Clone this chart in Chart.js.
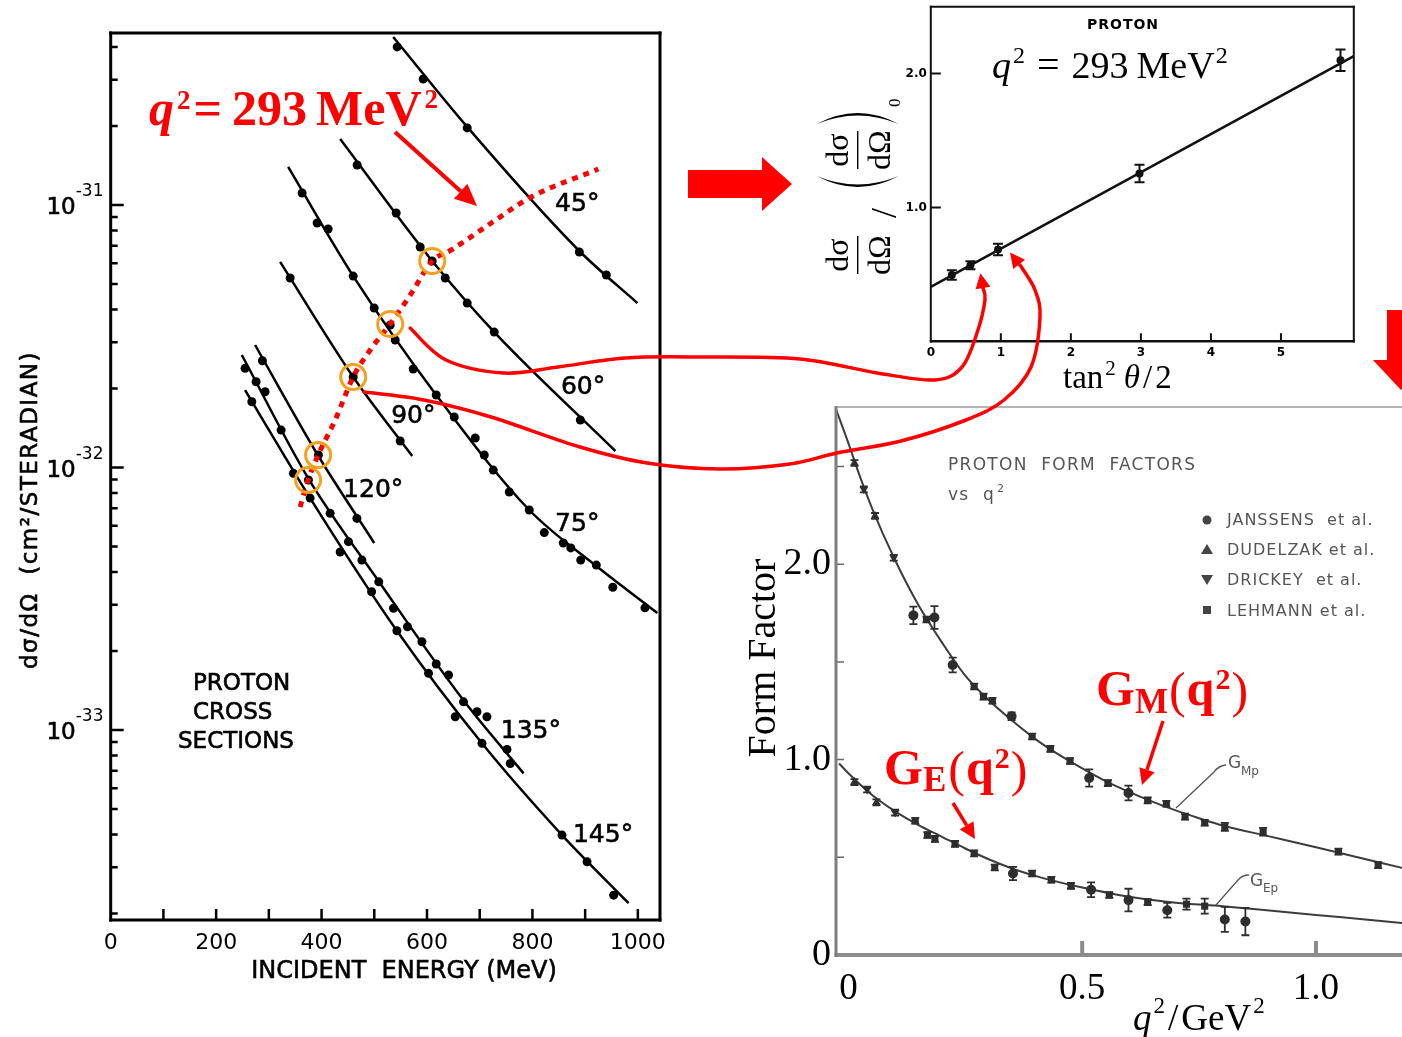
<!DOCTYPE html>
<html>
<head>
<meta charset="utf-8">
<title>Proton cross sections and form factors</title>
<script src="https://cdn.jsdelivr.net/npm/chart.js@4.4.1/dist/chart.umd.min.js"></script>
<style>
  html, body { margin: 0; padding: 0; background: #fff; }
  body { width: 1402px; height: 1037px; overflow: hidden; position: relative; }
  .panel { position: absolute; }
  canvas { display: block; }
  #overlay { position: absolute; left: 0; top: 0; pointer-events: none; }
</style>
</head>
<body>
<div class="panel" style="left:0;top:0"><canvas id="cross" width="680" height="1000"></canvas></div>
<div class="panel" style="left:800px;top:0"><canvas id="rosen" width="602" height="400"></canvas></div>
<div class="panel" style="left:730px;top:400px"><canvas id="ff" width="740" height="637"></canvas></div>
<canvas id="overlay" width="1402" height="1037"></canvas>
<script>
const RED = '#ff0000';
const ORANGE = '#f4a11e';
const HAND = "'DejaVu Sans', sans-serif";
const SERIF = "'Liberation Serif', 'DejaVu Serif', serif";
const GREY = '#3c3c3c';

// ---- left panel: d(sigma)/d(Omega) in units of 1e-32 cm^2/sr vs incident energy (MeV)
const energyTicks = [0, 200, 400, 600, 800, 1000];
const energyMinor = [100, 200, 300, 400, 500, 600, 700, 800, 900, 1000];
const sigmaTicks = [0.1, 1, 10];
const sigmaExponents = ['-33', '-32', '-31'];

const pts45 = [[543.5, 40.0], [592.8, 30.2], [676.3, 19.66], [889.0, 6.62], [940.2, 5.41]];
const curve45 = [[535.9, 43.65], [676.3, 19.83], [889.0, 6.68], [999.1, 4.23]];
const pts60 = [[467.5, 14.2], [541.6, 9.32], [587.1, 6.92], [609.9, 6.12], [634.6, 5.27], [676.3, 4.23], [727.6, 3.28], [890.9, 1.517]];
const curve60 = [[435.3, 17.84], [609.9, 6.12], [727.6, 3.28], [957.3, 1.156]];
const pts75 = [[363.1, 11.11], [391.6, 8.54], [412.5, 8.10], [460.0, 5.36], [499.8, 4.05], [530.2, 3.49], [539.7, 3.06],
  [573.8, 2.372], [617.5, 1.889], [651.7, 1.557], [691.5, 1.295], [708.6, 1.116], [725.7, 0.978], [756.1, 0.807],
  [794.0, 0.689], [822.5, 0.565], [858.6, 0.516], [872.8, 0.494], [891.6, 0.444], [921.2, 0.425], [952.5, 0.350], [1013.5, 0.292]];
const curve75 = [[336.6, 13.96], [460.0, 5.36], [617.5, 1.889], [794.0, 0.689], [921.2, 0.4215], [1037, 0.279]];
const pts90 = [[340.4, 5.27], [460.0, 2.212], [549.2, 1.262]];
const curve90 = [[321.4, 6.07], [460.0, 2.212], [572.0, 1.106]];
const pts120 = [[287.8, 2.552], [394.1, 1.116], [467.0, 0.640]];
const curve120 = [[273.9, 2.929], [392.8, 1.116], [499.8, 0.516]];
const pts135 = [[254.9, 2.387], [275.8, 2.122], [292.9, 1.944], [323.3, 1.389], [375.1, 0.896], [416.3, 0.669], [451.0, 0.522],
  [476.5, 0.444], [508.5, 0.367], [536.4, 0.291], [563.0, 0.2474], [590.4, 0.217], [617.5, 0.1784], [640.9, 0.162],
  [669.3, 0.1281], [694.8, 0.1174], [713.7, 0.1124], [751.7, 0.0844], [758.0, 0.0746]];
const curve135 = [[248.7, 2.683], [374.5, 0.912], [509.3, 0.3664], [668.8, 0.1301], [783.2, 0.0684]];
const pts145 = [[267.7, 1.781], [346.6, 0.950], [378.3, 0.765], [435.3, 0.4765], [494.9, 0.3364], [542.9, 0.2389],
  [602.9, 0.1644], [653.6, 0.1124], [704.3, 0.0890], [856.1, 0.0398], [903.6, 0.0315], [954.1, 0.0235]];
const curve145 = [[254.9, 1.973], [378.3, 0.765], [542.9, 0.2389], [704.3, 0.0890], [856.1, 0.0398], [982.5, 0.0219]];

// points at q^2 = 293 MeV^2 (circled) and the dotted line through them
const q293Points = [[609.9, 6.12], [530.2, 3.52], [460.0, 2.212], [393.5, 1.116], [374.5, 0.896]];
const q293Line = [[359.3, 0.707], [374.5, 0.896], [393.5, 1.116], [425.8, 1.517], [460.0, 2.212], [492.2, 2.803],
  [530.2, 3.52], [568.2, 4.54], [609.9, 6.12], [646.0, 6.74], [721.9, 8.54], [797.8, 10.73], [925.0, 13.71]];

const angleLabels = [['45°', 885, 10], ['60°', 896, 2.018], ['75°', 885, 0.609], ['90°', 574, 1.562],
  ['120°', 498, 0.814], ['135°', 797, 0.0985], ['145°', 934, 0.0398]];

// ---- top right: Rosenbluth plot at q^2 = 293 MeV^2
const tanTicks = [0, 1, 2, 3, 4, 5];
const ratioTicks = [1, 2];
const tanX = [0.30, 0.566, 0.96, 2.98, 5.85];
const ratioY = [0.495, 0.569, 0.686, 1.254, 2.10];
const ratioErr = [0.035, 0.03, 0.043, 0.066, 0.08];
const fitX = [0, 6.04];
const fitY = [0.407, 2.13];

// ---- bottom right: proton form factors vs q^2 (GeV^2)
const q2Ticks = [0, 0.5, 1.0];
const q2Labels = ['0', '0.5', '1.0'];
const ffTicks = [0, 1, 2];
const ffLabels = ['0', '1.0', '2.0'];
const gmX = [0.013, 0.033, 0.057, 0.097, 0.139, 0.167, 0.184, 0.223, 0.269, 0.289, 0.308, 0.349, 0.393, 0.432, 0.474,
  0.515, 0.555, 0.599, 0.640, 0.680, 0.720, 0.762, 0.805, 0.887, 1.048, 1.133];
const gmY = [2.518, 2.383, 2.247, 2.033, 1.738, 1.717, 1.727, 1.484, 1.374, 1.322, 1.301, 1.222, 1.118, 1.055, 0.993,
  0.906, 0.880, 0.829, 0.791, 0.774, 0.708, 0.677, 0.656, 0.631, 0.529, 0.460];
const gmErr = [0.015, 0.015, 0.015, 0.015, 0.045, 0.015, 0.058, 0.038, 0.015, 0.015, 0.015, 0.02, 0.015, 0.015, 0.015,
  0.044, 0.015, 0.038, 0.015, 0.015, 0.015, 0.015, 0.02, 0.02, 0.015, 0.015];
const gmMark = ['tri', 'inv', 'tri', 'inv', 'dot', 'sq', 'dot', 'dot', 'sq', 'sq', 'sq', 'dot', 'sq', 'sq', 'sq',
  'dot', 'sq', 'dot', 'sq', 'sq', 'sq', 'sq', 'sq', 'sq', 'sq', 'sq'];
const geX = [0.013, 0.040, 0.060, 0.100, 0.143, 0.169, 0.185, 0.228, 0.269, 0.313, 0.352, 0.393, 0.434, 0.476, 0.519,
  0.558, 0.599, 0.640, 0.682, 0.723, 0.762, 0.805, 0.849];
const geY = [0.885, 0.847, 0.781, 0.729, 0.687, 0.614, 0.594, 0.569, 0.520, 0.448, 0.417, 0.417, 0.385, 0.354, 0.334,
  0.307, 0.281, 0.271, 0.229, 0.260, 0.250, 0.182, 0.171];
const geErr = [0.015, 0.015, 0.015, 0.015, 0.015, 0.015, 0.015, 0.015, 0.015, 0.015, 0.034, 0.015, 0.015, 0.015, 0.038,
  0.015, 0.058, 0.015, 0.038, 0.028, 0.038, 0.064, 0.07];
const geMark = ['tri', 'inv', 'tri', 'inv', 'sq', 'sq', 'sq', 'sq', 'sq', 'sq', 'dot', 'sq', 'sq', 'sq', 'dot',
  'sq', 'dot', 'sq', 'dot', 'sq', 'sq', 'dot', 'dot'];
const gmCurve = [[-0.026, 2.79], [0.0, 2.62], [0.02, 2.48], [0.05, 2.29], [0.1, 2.02], [0.15, 1.79], [0.2, 1.60],
  [0.25, 1.43], [0.3, 1.305], [0.35, 1.20], [0.4, 1.105], [0.45, 1.025], [0.5, 0.955], [0.55, 0.89], [0.6, 0.835],
  [0.65, 0.785], [0.7, 0.74], [0.75, 0.70], [0.8, 0.663], [0.9, 0.607], [1.0, 0.551], [1.1, 0.494], [1.2, 0.437], [1.28, 0.395]];
const geCurve = [[-0.02, 0.98], [0.0, 0.93], [0.05, 0.82], [0.1, 0.735], [0.15, 0.665], [0.2, 0.605], [0.25, 0.545],
  [0.3, 0.49], [0.35, 0.443], [0.4, 0.405], [0.45, 0.373], [0.5, 0.345], [0.6, 0.298], [0.7, 0.268], [0.8, 0.25],
  [0.9, 0.228], [1.0, 0.205], [1.1, 0.183], [1.2, 0.16], [1.28, 0.142]];

const xy = arr => arr.map(([x, y]) => ({ x, y }));
const zip = (xs, ys) => xs.map((x, i) => ({ x, y: ys[i] }));
const markStyle = m => (m === 'dot' ? 'circle' : m === 'sq' ? 'rect' : 'triangle');

// minor ticks of the log axis: 1..9 in every decade
const logMinor = [];
[0.01, 0.1, 1, 10].forEach(d => { for (let m = 1; m <= 9; m++) logMinor.push(m * d); });

// fixed axis box sizes, no label overhang padding
const fixW = w => s => { s.width = w; s.paddingTop = 0; s.paddingBottom = 0; };
const fixH = h => s => { s.height = h; s.paddingLeft = 0; s.paddingRight = 0; };

// frame and inward ticks drawn on the chart area border
function framePlugin(cfg) {
  return {
    id: 'frame',
    afterDatasetsDraw(chart) {
      const { ctx, chartArea: a, scales } = chart;
      const s = cfg.sides, col = cfg.sideColors || {};
      ctx.save();
      cfg.marks.forEach(m => {
        ctx.strokeStyle = m.color || cfg.color;
        ctx.lineWidth = m.width;
        ctx.beginPath();
        m.values.forEach(v => {
          if (m.axis === 'x') {
            const p = scales.x.getPixelForValue(v);
            ctx.moveTo(p, a.bottom); ctx.lineTo(p, a.bottom - m.len);
          } else {
            if (v < scales.y.min || v > scales.y.max) return;
            const p = scales.y.getPixelForValue(v);
            const len = (m.major && m.major(v)) ? m.majorLen : m.len;
            ctx.moveTo(a.left, p); ctx.lineTo(a.left + len, p);
          }
        });
        ctx.stroke();
      });
      const edge = (name, x1, y1, x2, y2) => {
        if (!s[name]) return;
        ctx.strokeStyle = col[name] || cfg.color;
        ctx.lineWidth = s[name];
        ctx.beginPath(); ctx.moveTo(x1, y1); ctx.lineTo(x2, y2); ctx.stroke();
      };
      const hl = (s.left || 0) / 2, hr = (s.right || 0) / 2, ht = (s.top || 0) / 2, hb = (s.bottom || 0) / 2;
      edge('top', a.left - hl, a.top, a.right + hr, a.top);
      edge('bottom', a.left - hl, a.bottom, a.right + hr, a.bottom);
      edge('left', a.left, a.top - ht, a.left, a.bottom + hb);
      edge('right', a.right, a.top - ht, a.right, a.bottom + hb);
      ctx.restore();
    }
  };
}

function errorBarPlugin(cap, width) {
  return {
    id: 'errorBars',
    afterDatasetsDraw(chart) {
      const { ctx } = chart;
      const yScale = chart.scales.y;
      chart.data.datasets.forEach((ds, i) => {
        if (!ds.errors) return;
        const meta = chart.getDatasetMeta(i);
        ctx.save();
        ctx.strokeStyle = ds.backgroundColor;
        ctx.lineWidth = width;
        ctx.beginPath();
        meta.data.forEach((el, j) => {
          const e = ds.errors[j], v = ds.data[j].y;
          const t = yScale.getPixelForValue(v + e), b = yScale.getPixelForValue(v - e);
          ctx.moveTo(el.x, t); ctx.lineTo(el.x, b);
          ctx.moveTo(el.x - cap, t); ctx.lineTo(el.x + cap, t);
          ctx.moveTo(el.x - cap, b); ctx.lineTo(el.x + cap, b);
        });
        ctx.stroke();
        ctx.restore();
      });
    }
  };
}

// angle labels and "10 with exponent" labels of the cross-section panel
const crossLabelPlugin = {
  id: 'crossLabels',
  afterDatasetsDraw(chart) {
    const { ctx, chartArea: a, scales: { x, y } } = chart;
    ctx.save();
    ctx.fillStyle = '#000';
    ctx.strokeStyle = '#000';
    ctx.lineWidth = 0.6;
    ctx.font = `25px ${HAND}`;
    ctx.textAlign = 'center';
    ctx.textBaseline = 'middle';
    angleLabels.forEach(([t, e, s]) => {
      const px = x.getPixelForValue(e), py = y.getPixelForValue(s);
      ctx.fillText(t, px, py); ctx.strokeText(t, px, py);
    });
    ctx.textBaseline = 'alphabetic';
    sigmaTicks.forEach((v, i) => {
      const p = y.getPixelForValue(v);
      ctx.font = `23px ${HAND}`; ctx.textAlign = 'right';
      ctx.fillText('10', a.left - 35, p + 9); ctx.strokeText('10', a.left - 35, p + 9);
      ctx.font = `17px ${HAND}`; ctx.textAlign = 'left';
      ctx.fillText(sigmaExponents[i], a.left - 35, p - 9);
    });
    ctx.restore();
  }
};

const common = {
  responsive: false,
  animation: false,
  events: [],
  plugins: { legend: { display: false }, tooltip: { enabled: false } }
};

function axis(extra) {
  return Object.assign({
    grid: { display: false, drawTicks: false },
    border: { display: false }
  }, extra);
}

// ---------------- left: cross sections ----------------
const curveSet = (data) => ({
  data: xy(data), showLine: true, borderColor: '#000', borderWidth: 2.5, pointRadius: 0,
  tension: 0.4, cubicInterpolationMode: 'monotone'
});
const pointSet = (data) => ({
  data: xy(data), pointRadius: 4.5, backgroundColor: '#000', borderWidth: 0
});

const cross = new Chart(document.getElementById('cross'), {
  type: 'scatter',
  data: {
    datasets: [
      { data: xy(q293Points), pointRadius: 12.5, borderWidth: 3, pointBorderWidth: 3, borderColor: ORANGE,
        backgroundColor: 'rgba(0,0,0,0)' },
      { data: xy(q293Line), showLine: true, borderColor: RED, borderWidth: 5, borderDash: [6, 6], pointRadius: 0,
        tension: 0.4, cubicInterpolationMode: 'monotone' },
      pointSet(pts45), curveSet(curve45),
      pointSet(pts60), curveSet(curve60),
      pointSet(pts75), curveSet(curve75),
      pointSet(pts90), curveSet(curve90),
      pointSet(pts120), curveSet(curve120),
      pointSet(pts135), curveSet(curve135),
      pointSet(pts145), curveSet(curve145)
    ]
  },
  options: Object.assign({}, common, {
    layout: { padding: { top: 33, right: 20, left: 0, bottom: 0 } },
    scales: {
      x: axis({
        type: 'linear', min: 0, max: 1042,
        afterBuildTicks: s => { s.ticks = energyTicks.map(v => ({ value: v })); },
        afterFit: fixH(80),
        ticks: { autoSkip: false, maxRotation: 0, padding: 10, color: '#000', font: { family: HAND, size: 22 },
          callback: v => String(v) }
      }),
      y: axis({
        type: 'logarithmic', min: 0.0189, max: 45.2,
        afterBuildTicks: s => { s.ticks = sigmaTicks.map(v => ({ value: v })); },
        afterFit: fixW(110.7),
        ticks: { display: false }
      })
    }
  }),
  plugins: [framePlugin({
    color: '#000',
    sides: { top: 3, right: 3, bottom: 3, left: 3 },
    marks: [
      { axis: 'x', values: energyMinor, len: 11, width: 2.5 },
      { axis: 'y', values: logMinor, len: 7, majorLen: 13, width: 2.5,
        major: v => Math.abs(Math.log10(v) - Math.round(Math.log10(v))) < 1e-6 }
    ]
  }), crossLabelPlugin]
});

// ---------------- top right: Rosenbluth ----------------
const rosen = new Chart(document.getElementById('rosen'), {
  type: 'scatter',
  data: {
    datasets: [
      { data: zip(tanX, ratioY), errors: ratioErr, pointRadius: 4, backgroundColor: '#111', borderWidth: 0 },
      { data: zip(fitX, fitY), showLine: true, borderColor: '#111', borderWidth: 2.5, pointRadius: 0 }
    ]
  },
  options: Object.assign({}, common, {
    layout: { padding: { top: 6.7, right: 48.2, left: 0, bottom: 0 } },
    scales: {
      x: axis({
        type: 'linear', min: 0, max: 6.04,
        afterBuildTicks: s => { s.ticks = tanTicks.map(v => ({ value: v })); },
        afterFit: fixH(58.7),
        ticks: { autoSkip: false, maxRotation: 0, padding: 4, color: '#000',
          font: { family: HAND, size: 12, weight: 'bold' }, callback: v => String(v) }
      }),
      y: axis({
        type: 'linear', min: 0, max: 2.5,
        afterBuildTicks: s => { s.ticks = ratioTicks.map(v => ({ value: v })); },
        afterFit: fixW(130.8),
        ticks: { autoSkip: false, padding: 4, color: '#000',
          font: { family: HAND, size: 12, weight: 'bold' }, callback: v => v.toFixed(1) }
      })
    }
  }),
  plugins: [framePlugin({
    color: '#111',
    sides: { top: 2, right: 2, bottom: 2.5, left: 2 },
    marks: [
      { axis: 'x', values: [1, 2, 3, 4, 5], len: 8, width: 2 },
      { axis: 'y', values: ratioTicks, len: 10, width: 2 }
    ]
  }), errorBarPlugin(5, 2)]
});

// ---------------- bottom right: form factors ----------------
const ffSet = (xs, ys, errs, marks) => ({
  data: zip(xs, ys), errors: errs, pointRadius: 5, backgroundColor: '#2e2e2e', borderWidth: 0,
  pointStyle: marks.map(markStyle), rotation: marks.map(m => (m === 'inv' ? 180 : 0))
});
const ff = new Chart(document.getElementById('ff'), {
  type: 'scatter',
  data: {
    datasets: [
      ffSet(gmX, gmY, gmErr, gmMark),
      ffSet(geX, geY, geErr, geMark),
      { data: xy(gmCurve), showLine: true, borderColor: GREY, borderWidth: 2, pointRadius: 0, tension: 0.4,
        cubicInterpolationMode: 'monotone' },
      { data: xy(geCurve), showLine: true, borderColor: GREY, borderWidth: 2, pointRadius: 0, tension: 0.4,
        cubicInterpolationMode: 'monotone' }
    ]
  },
  options: Object.assign({}, common, {
    layout: { padding: { top: 7, right: 20, left: 0, bottom: 0 } },
    scales: {
      x: axis({
        type: 'linear', min: -0.0265, max: 1.2866,
        afterBuildTicks: s => { s.ticks = q2Ticks.map(v => ({ value: v })); },
        afterFit: fixH(82),
        ticks: { autoSkip: false, maxRotation: 0, padding: 12, color: '#000', font: { family: SERIF, size: 37 },
          callback: (v, i) => q2Labels[i] }
      }),
      y: axis({
        type: 'linear', min: 0, max: 2.8045,
        afterBuildTicks: s => { s.ticks = ffTicks.map(v => ({ value: v })); },
        afterFit: fixW(106),
        ticks: { autoSkip: false, padding: 5, color: '#000', font: { family: SERIF, size: 38 },
          callback: (v, i) => ffLabels[i] }
      })
    }
  }),
  plugins: [framePlugin({
    color: '#868686',
    sides: { top: 1.5, bottom: 4, left: 3 },
    sideColors: { top: '#9a9a9a', bottom: '#8c8c8c', left: '#7d7d7d' },
    marks: [
      { axis: 'x', values: [0.5, 1.0], len: 14, width: 4, color: '#8c8c8c' },
      { axis: 'y', values: [0.5, 1.0, 1.5, 2.0, 2.5], len: 8, width: 1.5, color: '#666' }
    ]
  }), errorBarPlugin(4, 1.8)]
});

// ---------------- overlay: captions and red annotations ----------------
function smooth(ctx, pts) {
  ctx.moveTo(pts[0][0], pts[0][1]);
  for (let i = 0; i < pts.length - 1; i++) {
    const p0 = pts[i - 1] || pts[i], p1 = pts[i], p2 = pts[i + 1], p3 = pts[i + 2] || p2;
    ctx.bezierCurveTo(p1[0] + (p2[0] - p0[0]) / 6, p1[1] + (p2[1] - p0[1]) / 6,
      p2[0] - (p3[0] - p1[0]) / 6, p2[1] - (p3[1] - p1[1]) / 6, p2[0], p2[1]);
  }
}

function head(ctx, from, tip, len, half) {
  const dx = tip[0] - from[0], dy = tip[1] - from[1], d = Math.hypot(dx, dy);
  const ux = dx / d, uy = dy / d;
  const b = [tip[0] - ux * len, tip[1] - uy * len];
  ctx.beginPath();
  ctx.moveTo(tip[0], tip[1]);
  ctx.lineTo(b[0] - uy * half, b[1] + ux * half);
  ctx.lineTo(b[0] + uy * half, b[1] - ux * half);
  ctx.closePath();
  ctx.fill();
  return b;
}

function arrow(ctx, from, tip, len, half, width) {
  const b = head(ctx, from, tip, len, half);
  ctx.lineWidth = width;
  ctx.beginPath(); ctx.moveTo(from[0], from[1]); ctx.lineTo(b[0], b[1]); ctx.stroke();
}

function connector(ctx, pts, tip) {
  const b = head(ctx, pts[pts.length - 1], tip, 15, 7.5);
  ctx.lineWidth = 3.5;
  ctx.lineCap = 'round';
  ctx.beginPath(); smooth(ctx, pts.concat([b])); ctx.stroke();
}

// text runs laid out one after another: [text, font, dy, extra gap]
function rich(ctx, parts, x, y) {
  ctx.textAlign = 'left';
  let cx = x;
  parts.forEach(([t, f, dy, gap]) => {
    ctx.font = f;
    ctx.fillText(t, cx, y + (dy || 0));
    cx += ctx.measureText(t).width + (gap || 0);
  });
}

function drawOverlay() {
  const ctx = document.getElementById('overlay').getContext('2d');
  const at = (chart, off, x, y) => [off[0] + chart.scales.x.getPixelForValue(x), off[1] + chart.scales.y.getPixelForValue(y)];
  const put = (t, font, x, y, align) => { ctx.font = font; ctx.textAlign = align || 'left'; ctx.fillText(t, x, y); };
  const CR = [0, 0], RO = [800, 0];
  ctx.textBaseline = 'alphabetic';

  // left panel captions
  ctx.fillStyle = '#000'; ctx.strokeStyle = '#000'; ctx.lineWidth = 0.6;
  ctx.save();
  ctx.translate(37, 510); ctx.rotate(-Math.PI / 2);
  ctx.letterSpacing = '1.5px';
  put('dσ/dΩ  (cm²/STERADIAN)', `23px ${HAND}`, 0, 0, 'center');
  ctx.strokeText('dσ/dΩ  (cm²/STERADIAN)', 0, 0);
  ctx.restore();
  const hand = (t, x, y, align, size) => {
    put(t, `${size}px ${HAND}`, x, y, align);
    ctx.strokeText(t, x, y);
  };
  hand('INCIDENT  ENERGY (MeV)', 404, 978, 'center', 24);
  hand('PROTON', 193, 690, 'left', 23);
  hand('CROSS', 193, 719, 'left', 23);
  hand('SECTIONS', 178, 748, 'left', 23);

  // red q^2 label and arrow on the left panel
  ctx.fillStyle = RED; ctx.strokeStyle = RED;
  rich(ctx, [['q', `italic bold 50px ${SERIF}`, 0, 3], ['2', `bold 27px ${SERIF}`, -16, 3],
    ['=', `bold 50px ${SERIF}`, 0, 10], ['293', `bold 50px ${SERIF}`, 0, 9],
    ['MeV', `bold 50px ${SERIF}`, 0, 3], ['2', `bold 27px ${SERIF}`, -17, 0]], 149, 125);
  arrow(ctx, [395, 132], [477, 206], 22, 10, 4);

  // block arrows
  ctx.beginPath();
  ctx.moveTo(688, 170); ctx.lineTo(762, 170); ctx.lineTo(762, 157); ctx.lineTo(792, 184);
  ctx.lineTo(762, 211); ctx.lineTo(762, 198); ctx.lineTo(688, 198); ctx.closePath(); ctx.fill();
  ctx.beginPath();
  ctx.moveTo(1387, 310); ctx.lineTo(1415, 310); ctx.lineTo(1415, 360); ctx.lineTo(1429, 360); ctx.lineTo(1401, 390);
  ctx.lineTo(1373, 360); ctx.lineTo(1387, 360); ctx.closePath(); ctx.fill();

  // Rosenbluth captions
  ctx.fillStyle = '#000'; ctx.strokeStyle = '#000';
  ctx.save(); ctx.letterSpacing = '1px';
  put('PROTON', `bold 14px ${HAND}`, 1123, 29, 'center');
  ctx.restore();
  rich(ctx, [['q', `italic 38px ${SERIF}`, 0, 2], ['2', `24px ${SERIF}`, -15, 12], ['=', `40px ${SERIF}`, 0, 12],
    ['293', `38px ${SERIF}`, 0, 8], ['MeV', `38px ${SERIF}`, 0, 1], ['2', `24px ${SERIF}`, -15, 0]], 992, 78);
  rich(ctx, [['tan', `33px ${SERIF}`, 0, 2], ['2', `21px ${SERIF}`, -13, 8], ['θ', `italic 33px ${SERIF}`, 0, 3],
    ['/', `33px ${SERIF}`, 0, 3], ['2', `33px ${SERIF}`, 0, 0]], 1063, 388);

  ctx.save();
  ctx.translate(857.7, 255); ctx.rotate(-Math.PI / 2);
  const frac = cx => {
    put('dσ', `32px ${SERIF}`, cx, -10, 'center');
    put('dΩ', `32px ${SERIF}`, cx, 32, 'center');
    ctx.lineWidth = 1.4;
    ctx.beginPath(); ctx.moveTo(cx - 19, 0); ctx.lineTo(cx + 19, 0); ctx.stroke();
  };
  const paren = (xb, dir) => {
    const w = 11, h = 41, e = xb + dir * w;
    ctx.beginPath();
    ctx.moveTo(e, -h);
    ctx.quadraticCurveTo(xb - dir * w, 0, e, h);
    ctx.quadraticCurveTo(xb - dir * w + dir * 5, 0, e, -h);
    ctx.fill();
  };
  frac(0);
  put('/', `36px ${SERIF}`, 42, 38, 'center');
  paren(68, 1);
  frac(105);
  paren(142, -1);
  put('0', `17px ${SERIF}`, 148, 42);
  ctx.restore();

  // form factor captions
  ctx.save();
  ctx.translate(775, 658); ctx.rotate(-Math.PI / 2);
  put('Form Factor', `40px ${SERIF}`, 0, 0, 'center');
  ctx.restore();
  rich(ctx, [['q', `italic 37px ${SERIF}`, 0, 2], ['2', `23px ${SERIF}`, -17, 3], ['/', `37px ${SERIF}`, 0, 3],
    ['GeV', `37px ${SERIF}`, 0, 2], ['2', `23px ${SERIF}`, -17, 0]], 1133, 1030);

  ctx.fillStyle = '#555'; ctx.strokeStyle = '#555';
  ctx.save(); ctx.letterSpacing = '1.3px';
  put('PROTON  FORM  FACTORS', `17px ${HAND}`, 948, 470);
  put('vs  q', `17px ${HAND}`, 948, 500);
  put('2', `11px ${HAND}`, 997, 492);
  ctx.restore();
  ctx.save(); ctx.letterSpacing = '1px';
  put('JANSSENS  et al.', `16px ${HAND}`, 1227, 525);
  put('DUDELZAK et al.', `16px ${HAND}`, 1227, 555);
  put('DRICKEY  et al.', `16px ${HAND}`, 1227, 585);
  put('LEHMANN et al.', `16px ${HAND}`, 1227, 616);
  ctx.restore();
  ctx.fillStyle = '#444';
  ctx.beginPath(); ctx.arc(1207, 520, 4.5, 0, Math.PI * 2); ctx.fill();
  ctx.beginPath(); ctx.moveTo(1207, 544); ctx.lineTo(1213, 554); ctx.lineTo(1201, 554); ctx.closePath(); ctx.fill();
  ctx.beginPath(); ctx.moveTo(1201, 575); ctx.lineTo(1213, 575); ctx.lineTo(1207, 585); ctx.closePath(); ctx.fill();
  ctx.fillRect(1203, 606, 8, 8);

  ctx.fillStyle = '#555'; ctx.strokeStyle = '#555'; ctx.lineWidth = 1.3;
  put('G', `17px ${HAND}`, 1228, 768);
  put('Mp', `12px ${HAND}`, 1241, 775);
  ctx.beginPath(); ctx.moveTo(1176, 808); ctx.lineTo(1214, 772); ctx.quadraticCurveTo(1218, 766, 1226, 765); ctx.stroke();
  put('G', `17px ${HAND}`, 1250, 886);
  put('Ep', `12px ${HAND}`, 1263, 892);
  ctx.beginPath(); ctx.moveTo(1216, 905); ctx.lineTo(1238, 880); ctx.quadraticCurveTo(1242, 875, 1249, 875); ctx.stroke();

  // red form-factor labels
  ctx.fillStyle = RED; ctx.strokeStyle = RED;
  rich(ctx, [['G', `bold 50px ${SERIF}`, 0, 0], ['M', `bold 35px ${SERIF}`, 8, 1], ['(', `50px ${SERIF}`, 2, 1],
    ['q', `bold 50px ${SERIF}`, 0, 1], ['2', `bold 30px ${SERIF}`, -16, 1], [')', `50px ${SERIF}`, 2, 0]], 1096, 705);
  arrow(ctx, [1163, 721], [1142, 785], 16, 8, 3.5);
  rich(ctx, [['G', `bold 50px ${SERIF}`, 0, 0], ['E', `bold 35px ${SERIF}`, 7, 2], ['(', `50px ${SERIF}`, 2, 1],
    ['q', `bold 50px ${SERIF}`, 0, 1], ['2', `bold 30px ${SERIF}`, -16, 1], [')', `50px ${SERIF}`, 2, 0]], 884, 784);
  arrow(ctx, [953, 803], [975, 839], 16, 8, 3.5);

  // connectors from the circled points to the Rosenbluth points
  const c75 = at(cross, CR, q293Points[1][0], q293Points[1][1]);
  const c90 = at(cross, CR, q293Points[2][0], q293Points[2][1]);
  const r75 = at(rosen, RO, tanX[1], ratioY[1]);
  const r90 = at(rosen, RO, tanX[2], ratioY[2]);
  connector(ctx, [[c75[0] + 20, c75[1] + 4], [446, 360], [504, 373], [558, 367], [625, 358], [700, 357], [800, 359],
    [877, 373], [935, 380], [962, 367], [977, 333], [985, 300]], [r75[0] + 10, r75[1] + 8]);
  connector(ctx, [[c90[0] + 11, c90[1] + 15], [424, 400], [491, 417], [580, 447], [647, 463], [720, 469], [790, 464],
    [837, 453], [901, 441], [966, 420], [1004, 400], [1031, 367], [1040, 317], [1035, 290], [1022, 268]],
    [r90[0] + 12, r90[1] + 3]);
}

drawOverlay();
</script>
</body>
</html>
